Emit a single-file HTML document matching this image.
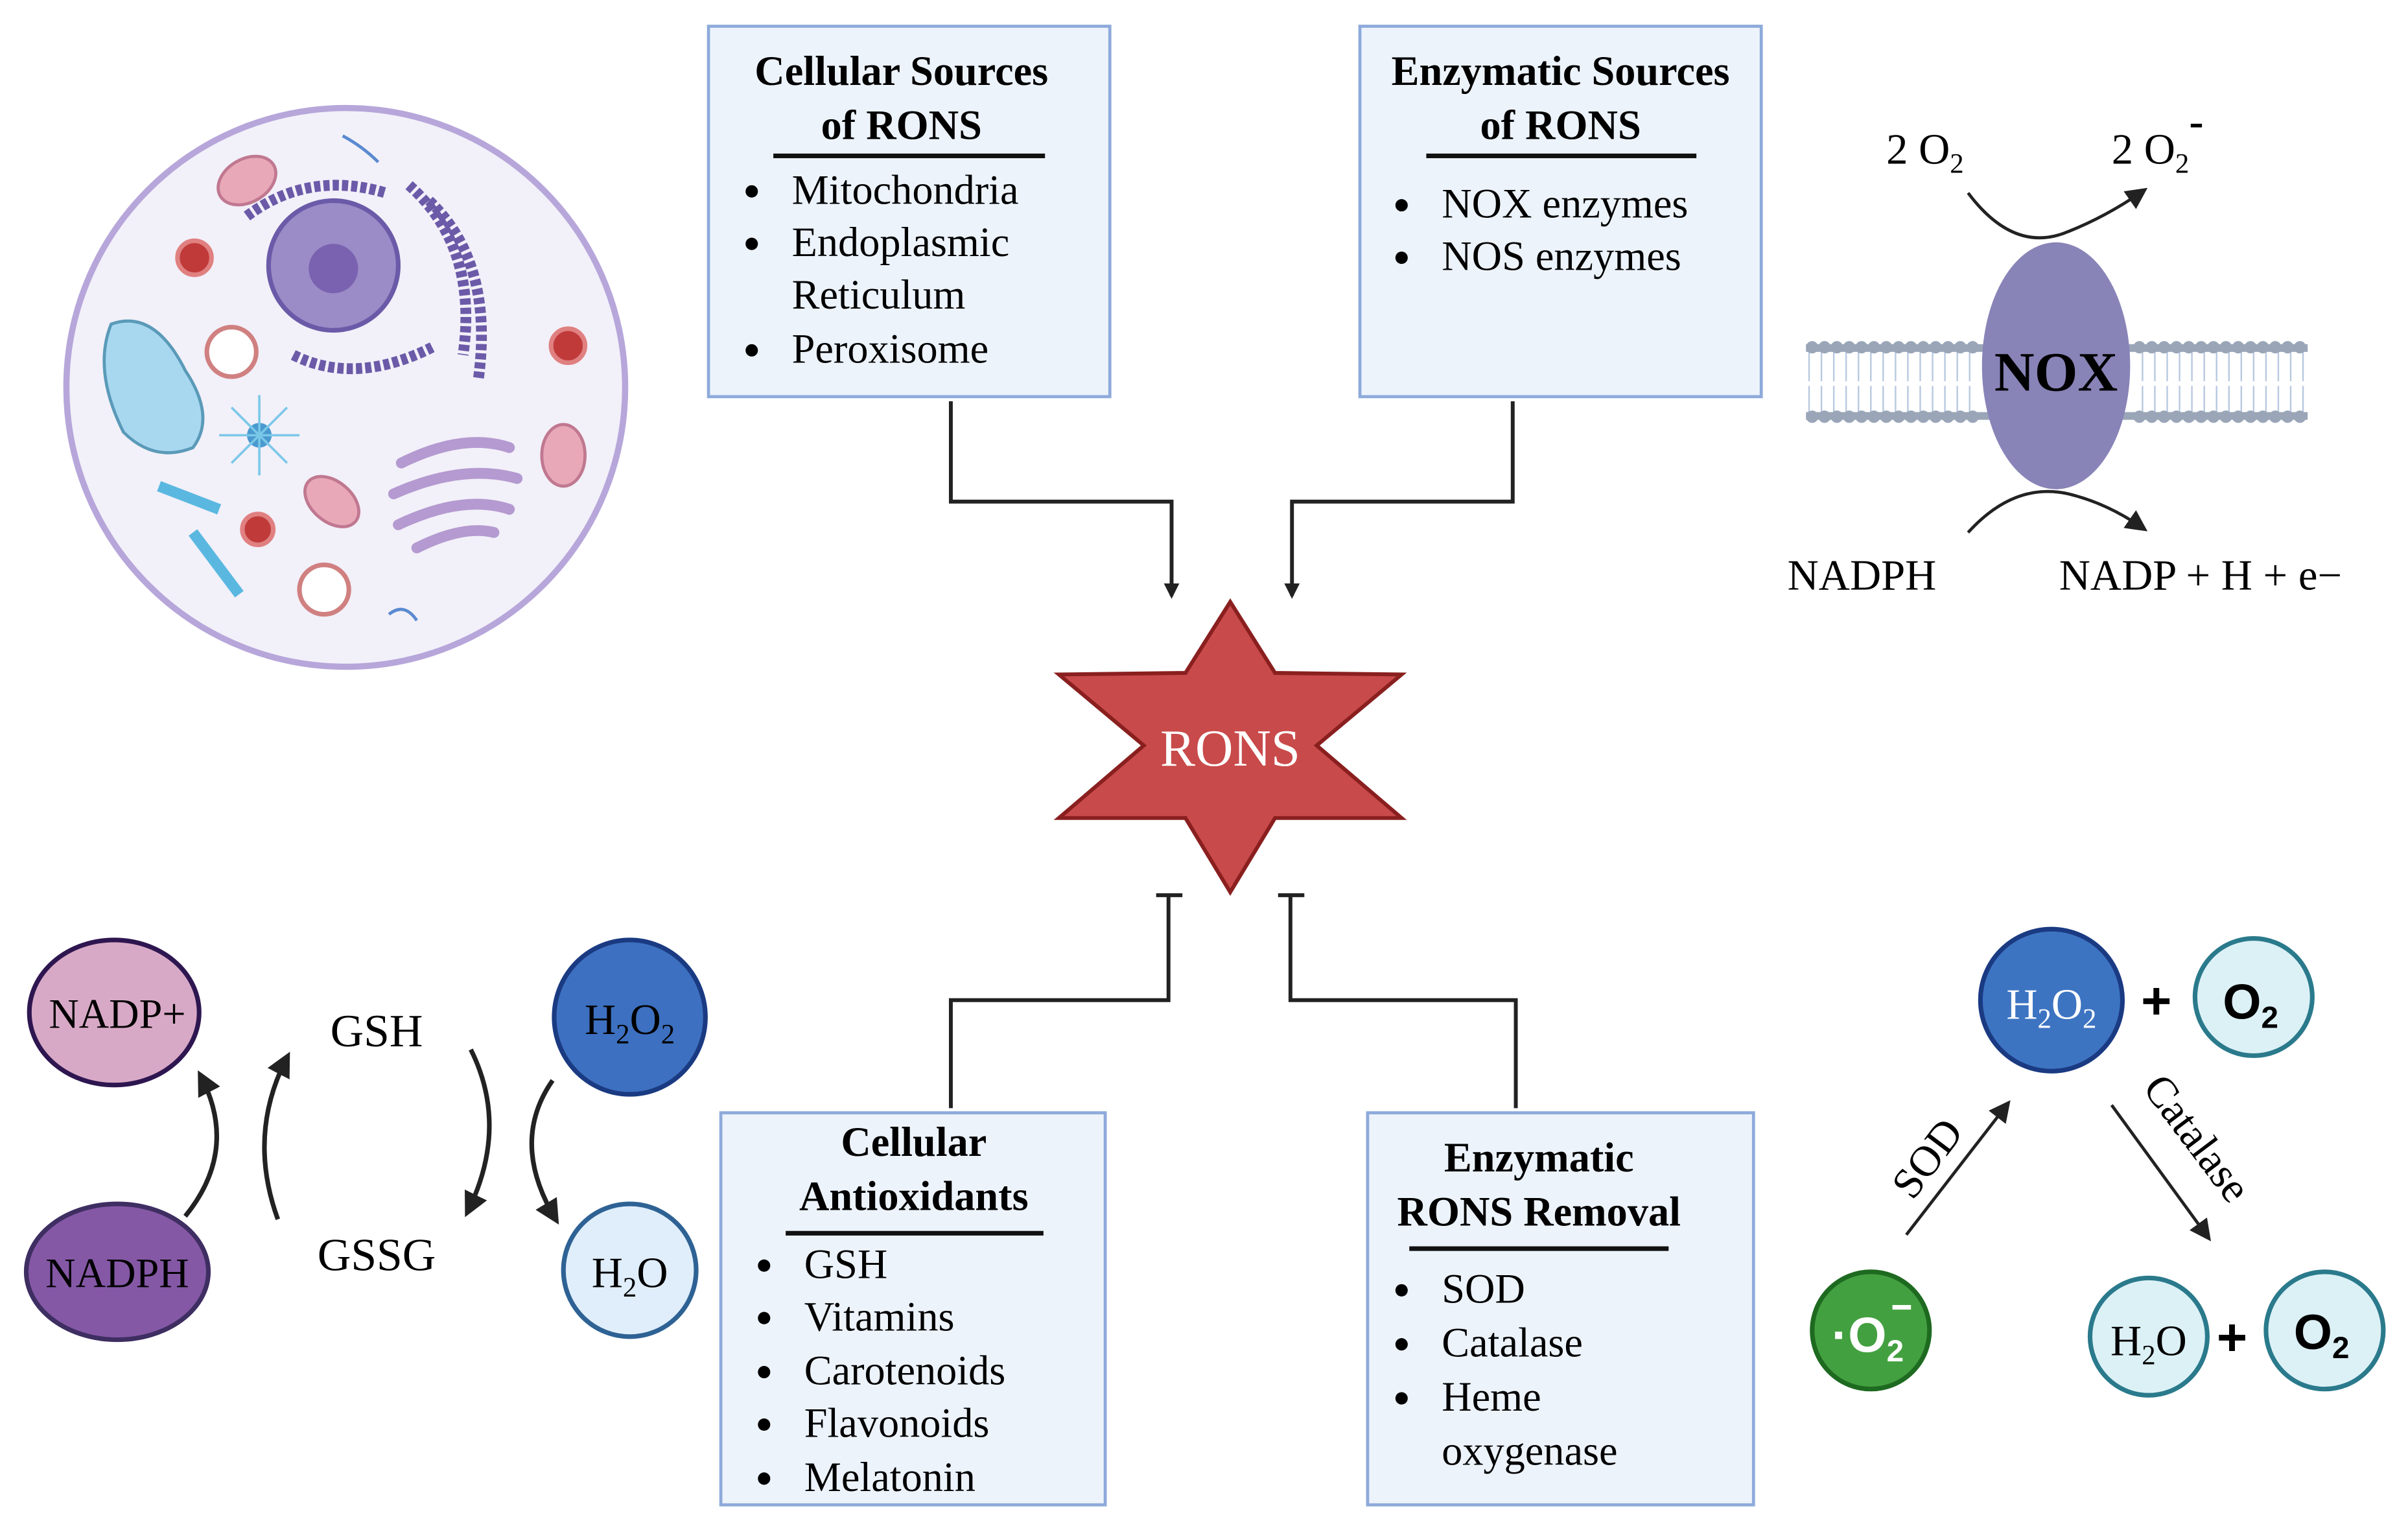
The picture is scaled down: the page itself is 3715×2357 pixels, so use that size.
<!DOCTYPE html>
<html><head><meta charset="utf-8"><style>
html,body{margin:0;padding:0;background:#fff;}
svg{display:block;}
text{font-family:"Liberation Serif",serif;}
</style></head><body>
<svg width="3715" height="2357" viewBox="0 0 1560 990" preserveAspectRatio="none" xmlns="http://www.w3.org/2000/svg">
<defs>
<marker id="ah" markerWidth="10" markerHeight="10" refX="8" refY="5" orient="auto" markerUnits="userSpaceOnUse"><path d="M0,0 L10,5 L0,10 Z" fill="#222"/></marker>
<marker id="ah2" markerWidth="16" markerHeight="16" refX="12" refY="8" orient="auto" markerUnits="userSpaceOnUse"><path d="M0,0 L16,8 L0,16 Z" fill="#222"/></marker>
<marker id="ahd" markerWidth="14" markerHeight="14" refX="10" refY="7" orient="auto" markerUnits="userSpaceOnUse"><path d="M0,0 L14,7 L0,14 Z" fill="#222"/></marker>
</defs>

<!-- Cell -->
<circle cx="224" cy="251" r="181" fill="#f2f0f9" stroke="#b7a6da" stroke-width="4"/>
<circle cx="216" cy="172" r="42" fill="#9b8cc8" stroke="#6b5aa8" stroke-width="3"/>
<circle cx="216" cy="174" r="16" fill="#7a62b0"/>
<path d="M160,140 Q200,110 250,125 M265,120 Q310,160 300,230 M278,130 Q320,170 310,245 M190,230 Q230,250 280,225" fill="none" stroke="#6b5aa8" stroke-width="7" stroke-dasharray="4 2"/>
<path d="M72,210 Q60,240 80,280 Q100,300 125,290 Q140,270 120,240 Q100,200 72,210Z" fill="#a8d8f0" stroke="#5a9ab8" stroke-width="2"/>
<ellipse cx="160" cy="117" rx="20" ry="14" fill="#e8a8b8" stroke="#c07890" stroke-width="2" transform="rotate(-30 160 117)"/>
<ellipse cx="365" cy="295" rx="14" ry="20" fill="#e8a8b8" stroke="#c07890" stroke-width="2"/>
<ellipse cx="215" cy="325" rx="20" ry="13" fill="#e8a8b8" stroke="#c07890" stroke-width="2" transform="rotate(40 215 325)"/>
<circle cx="126" cy="167" r="11" fill="#c03a3a" stroke="#e08080" stroke-width="3"/>
<circle cx="368" cy="224" r="11" fill="#c03a3a" stroke="#e08080" stroke-width="3"/>
<circle cx="167" cy="343" r="10" fill="#c03a3a" stroke="#e08080" stroke-width="3"/>
<circle cx="150" cy="228" r="16" fill="#fff" stroke="#d08080" stroke-width="3"/>
<circle cx="210" cy="382" r="16" fill="#fff" stroke="#d08080" stroke-width="3"/>
<path d="M260,300 Q300,280 330,290 M255,320 Q300,300 335,310 M258,340 Q300,320 330,330 M270,355 Q300,340 320,345" fill="none" stroke="#b49ad0" stroke-width="7" stroke-linecap="round"/>
<circle cx="168" cy="282" r="8" fill="#4a9ad0"/>
<path d="M142,282 L194,282 M168,256 L168,308 M150,264 L186,300 M186,264 L150,300" stroke="#7ac8e8" stroke-width="1.5"/>
<path d="M103,315 L142,330 M125,345 L155,385" stroke="#5ab8e0" stroke-width="7"/>
<path d="M222,88 Q235,95 245,105" fill="none" stroke="#5a8ad0" stroke-width="2"/>
<path d="M252,398 Q262,390 270,402" fill="none" stroke="#5a8ad0" stroke-width="2"/>

<!-- Boxes -->
<rect x="459" y="17" width="260" height="240" fill="#edf3fb" stroke="#8eaadb" stroke-width="2"/>
<text x="584" y="55" font-size="27" font-weight="bold" text-anchor="middle">Cellular Sources</text>
<text x="584" y="90" font-size="27" font-weight="bold" text-anchor="middle">of RONS</text>
<line x1="501" y1="101" x2="677" y2="101" stroke="#111" stroke-width="3"/>
<g font-size="27"><circle cx="487" cy="124" r="4"/><text x="513" y="132">Mitochondria</text>
<circle cx="487" cy="158" r="4"/><text x="513" y="166">Endoplasmic</text><text x="513" y="200">Reticulum</text>
<circle cx="487" cy="227" r="4"/><text x="513" y="235">Peroxisome</text></g>

<rect x="881" y="17" width="260" height="240" fill="#edf3fb" stroke="#8eaadb" stroke-width="2"/>
<text x="1011" y="55" font-size="27" font-weight="bold" text-anchor="middle">Enzymatic Sources</text>
<text x="1011" y="90" font-size="27" font-weight="bold" text-anchor="middle">of RONS</text>
<line x1="924" y1="101" x2="1099" y2="101" stroke="#111" stroke-width="3"/>
<g font-size="27"><circle cx="908" cy="133" r="4"/><text x="934" y="141">NOX enzymes</text>
<circle cx="908" cy="167" r="4"/><text x="934" y="175">NOS enzymes</text></g>

<rect x="467" y="721" width="249" height="254" fill="#edf3fb" stroke="#8eaadb" stroke-width="2"/>
<text x="592" y="749" font-size="27" font-weight="bold" text-anchor="middle">Cellular</text>
<text x="592" y="784" font-size="27" font-weight="bold" text-anchor="middle">Antioxidants</text>
<line x1="509" y1="799" x2="676" y2="799" stroke="#111" stroke-width="3"/>
<g font-size="27"><circle cx="495" cy="820" r="4"/><text x="521" y="828">GSH</text>
<circle cx="495" cy="854" r="4"/><text x="521" y="862">Vitamins</text>
<circle cx="495" cy="889" r="4"/><text x="521" y="897">Carotenoids</text>
<circle cx="495" cy="923" r="4"/><text x="521" y="931">Flavonoids</text>
<circle cx="495" cy="958" r="4"/><text x="521" y="966">Melatonin</text></g>

<rect x="886" y="721" width="250" height="254" fill="#edf3fb" stroke="#8eaadb" stroke-width="2"/>
<text x="997" y="759" font-size="27" font-weight="bold" text-anchor="middle">Enzymatic</text>
<text x="997" y="794" font-size="27" font-weight="bold" text-anchor="middle">RONS Removal</text>
<line x1="913" y1="809" x2="1081" y2="809" stroke="#111" stroke-width="3"/>
<g font-size="27"><circle cx="908" cy="836" r="4"/><text x="934" y="844">SOD</text>
<circle cx="908" cy="871" r="4"/><text x="934" y="879">Catalase</text>
<circle cx="908" cy="906" r="4"/><text x="934" y="914">Heme</text><text x="934" y="949">oxygenase</text></g>

<!-- Connectors -->
<g fill="none" stroke="#222" stroke-width="2.5">
<path d="M616,260 V325 H759 V386" marker-end="url(#ah)"/>
<path d="M980,260 V325 H837 V386" marker-end="url(#ah)"/>
<path d="M616,718 V648 H757 V580 M749,580 H766"/>
<path d="M982,718 V648 H836 V580 M828,580 H845"/>
</g>

<!-- Star -->
<polygon points="797,390 826,436 908,437 853,483 908,530 826,530 797,578 768,530 686,530 741,483 686,437 768,436" fill="#c94a4a" stroke="#8a1f1f" stroke-width="2.5" stroke-linejoin="miter"/>
<text x="797" y="496" font-size="34" fill="#fff" text-anchor="middle">RONS</text>

<!-- NOX -->
<g fill="#9aa6b8">
<rect x="1170" y="223" width="325" height="5"/><rect x="1170" y="267" width="325" height="5"/>
</g>
<g stroke="#b8c8e0" stroke-width="1">
<path d="M1172,228 L1172,247 M1180,228 L1180,247 M1188,228 L1188,247 M1196,228 L1196,247 M1204,228 L1204,247 M1212,228 L1212,247 M1220,228 L1220,247 M1228,228 L1228,247 M1236,228 L1236,247 M1244,228 L1244,247 M1252,228 L1252,247 M1260,228 L1260,247 M1268,228 L1268,247 M1276,228 L1276,247"/>
<path d="M1172,250 L1172,267 M1180,250 L1180,267 M1188,250 L1188,267 M1196,250 L1196,267 M1204,250 L1204,267 M1212,250 L1212,267 M1220,250 L1220,267 M1228,250 L1228,267 M1236,250 L1236,267 M1244,250 L1244,267 M1252,250 L1252,267 M1260,250 L1260,267 M1268,250 L1268,267 M1276,250 L1276,267"/>
<path d="M1388,228 V247 M1396,228 V247 M1404,228 V247 M1412,228 V247 M1420,228 V247 M1428,228 V247 M1436,228 V247 M1444,228 V247 M1452,228 V247 M1460,228 V247 M1468,228 V247 M1476,228 V247 M1484,228 V247 M1492,228 V247"/>
<path d="M1388,250 V267 M1396,250 V267 M1404,250 V267 M1412,250 V267 M1420,250 V267 M1428,250 V267 M1436,250 V267 M1444,250 V267 M1452,250 V267 M1460,250 V267 M1468,250 V267 M1476,250 V267 M1484,250 V267 M1492,250 V267"/>
</g>
<g fill="#9aa6b8">
<circle cx="1174" cy="225" r="4"/><circle cx="1182" cy="225" r="4"/><circle cx="1190" cy="225" r="4"/><circle cx="1198" cy="225" r="4"/><circle cx="1206" cy="225" r="4"/><circle cx="1214" cy="225" r="4"/><circle cx="1222" cy="225" r="4"/><circle cx="1230" cy="225" r="4"/><circle cx="1238" cy="225" r="4"/><circle cx="1246" cy="225" r="4"/><circle cx="1254" cy="225" r="4"/><circle cx="1262" cy="225" r="4"/><circle cx="1270" cy="225" r="4"/><circle cx="1278" cy="225" r="4"/>
<circle cx="1174" cy="270" r="4"/><circle cx="1182" cy="270" r="4"/><circle cx="1190" cy="270" r="4"/><circle cx="1198" cy="270" r="4"/><circle cx="1206" cy="270" r="4"/><circle cx="1214" cy="270" r="4"/><circle cx="1222" cy="270" r="4"/><circle cx="1230" cy="270" r="4"/><circle cx="1238" cy="270" r="4"/><circle cx="1246" cy="270" r="4"/><circle cx="1254" cy="270" r="4"/><circle cx="1262" cy="270" r="4"/><circle cx="1270" cy="270" r="4"/><circle cx="1278" cy="270" r="4"/>
<circle cx="1386" cy="225" r="4"/><circle cx="1394" cy="225" r="4"/><circle cx="1402" cy="225" r="4"/><circle cx="1410" cy="225" r="4"/><circle cx="1418" cy="225" r="4"/><circle cx="1426" cy="225" r="4"/><circle cx="1434" cy="225" r="4"/><circle cx="1442" cy="225" r="4"/><circle cx="1450" cy="225" r="4"/><circle cx="1458" cy="225" r="4"/><circle cx="1466" cy="225" r="4"/><circle cx="1474" cy="225" r="4"/><circle cx="1482" cy="225" r="4"/><circle cx="1490" cy="225" r="4"/>
<circle cx="1386" cy="270" r="4"/><circle cx="1394" cy="270" r="4"/><circle cx="1402" cy="270" r="4"/><circle cx="1410" cy="270" r="4"/><circle cx="1418" cy="270" r="4"/><circle cx="1426" cy="270" r="4"/><circle cx="1434" cy="270" r="4"/><circle cx="1442" cy="270" r="4"/><circle cx="1450" cy="270" r="4"/><circle cx="1458" cy="270" r="4"/><circle cx="1466" cy="270" r="4"/><circle cx="1474" cy="270" r="4"/><circle cx="1482" cy="270" r="4"/><circle cx="1490" cy="270" r="4"/>
</g>
<ellipse cx="1332" cy="237" rx="48" ry="80" fill="#8884b8"/>
<text x="1332" y="253" font-size="36" font-weight="bold" text-anchor="middle">NOX</text>
<text x="1222" y="106" font-size="28">2 O<tspan font-size="18" dy="6">2</tspan></text>
<text x="1368" y="106" font-size="28">2 O<tspan font-size="18" dy="6">2</tspan><tspan font-size="28" dy="-24" font-weight="bold">-</tspan></text>
<path d="M1275,125 Q1305,165 1340,150 Q1365,140 1388,124" fill="none" stroke="#222" stroke-width="2" marker-end="url(#ahd)"/>
<path d="M1275,345 Q1305,312 1340,320 Q1365,326 1388,342" fill="none" stroke="#222" stroke-width="2" marker-end="url(#ahd)"/>
<text x="1158" y="382" font-size="28">NADPH</text>
<text x="1334" y="382" font-size="28">NADP + H + e−</text>

<!-- GSH cycle -->
<ellipse cx="74" cy="656" rx="55" ry="47" fill="#d8a9c6" stroke="#2e1650" stroke-width="3"/>
<text x="76" y="666" font-size="27" text-anchor="middle">NADP+</text>
<ellipse cx="76" cy="824" rx="59" ry="44" fill="#8558a6" stroke="#3e2e62" stroke-width="3"/>
<text x="76" y="834" font-size="27" text-anchor="middle">NADPH</text>
<text x="244" y="678" font-size="30" text-anchor="middle">GSH</text>
<text x="244" y="823" font-size="30" text-anchor="middle">GSSG</text>
<ellipse cx="408" cy="659" rx="49" ry="50" fill="#3d70c0" stroke="#1a3a82" stroke-width="3"/>
<text x="408" y="670" font-size="28" text-anchor="middle">H<tspan font-size="18" dy="6">2</tspan><tspan dy="-6">O</tspan><tspan font-size="18" dy="6">2</tspan></text>
<ellipse cx="408" cy="823" rx="43" ry="43" fill="#e0eefb" stroke="#2e6294" stroke-width="3"/>
<text x="408" y="834" font-size="28" text-anchor="middle">H<tspan font-size="18" dy="6">2</tspan><tspan dy="-6">O</tspan></text>
<g fill="none" stroke="#222" stroke-width="3">
<path d="M120,788 Q155,745 130,697" marker-end="url(#ah2)"/>
<path d="M180,790 Q160,735 186,685" marker-end="url(#ah2)"/>
<path d="M305,680 Q330,730 303,785" marker-end="url(#ah2)"/>
<path d="M358,700 Q330,740 360,790" marker-end="url(#ah2)"/>
</g>

<!-- SOD / Catalase -->
<circle cx="1329" cy="648" r="46" fill="#3d74c2" stroke="#1a3a82" stroke-width="3"/>
<text x="1329" y="660" font-size="28" fill="#fff" text-anchor="middle">H<tspan font-size="18" dy="6">2</tspan><tspan dy="-6">O</tspan><tspan font-size="18" dy="6">2</tspan></text>
<text x="1397" y="660" font-size="34" font-weight="bold" text-anchor="middle" style="font-family:'Liberation Sans',sans-serif">+</text>
<circle cx="1460" cy="646" r="38" fill="#dcf1f6" stroke="#2a7a8c" stroke-width="3"/>
<text x="1458" y="660" font-size="32" font-weight="bold" text-anchor="middle" style="font-family:'Liberation Sans',sans-serif">O<tspan font-size="20" dy="6">2</tspan></text>
<circle cx="1212" cy="862" r="38" fill="#43a040" stroke="#1e6a20" stroke-width="3"/>
<text x="1210" y="876" font-size="32" font-weight="bold" fill="#fff" text-anchor="middle" style="font-family:'Liberation Sans',sans-serif">·O<tspan font-size="20" dy="6">2</tspan></text>
<line x1="1226" y1="847" x2="1238" y2="847" stroke="#fff" stroke-width="3"/>
<circle cx="1392" cy="866" r="38" fill="#dcf1f6" stroke="#2a7a8c" stroke-width="3"/>
<text x="1392" y="878" font-size="28" text-anchor="middle">H<tspan font-size="18" dy="6">2</tspan><tspan dy="-6">O</tspan></text>
<text x="1446" y="878" font-size="34" font-weight="bold" text-anchor="middle" style="font-family:'Liberation Sans',sans-serif">+</text>
<circle cx="1506" cy="862" r="38" fill="#dcf1f6" stroke="#2a7a8c" stroke-width="3"/>
<text x="1504" y="874" font-size="32" font-weight="bold" text-anchor="middle" style="font-family:'Liberation Sans',sans-serif">O<tspan font-size="20" dy="6">2</tspan></text>
<line x1="1235" y1="800" x2="1300" y2="716" stroke="#222" stroke-width="2" marker-end="url(#ahd)"/>
<line x1="1368" y1="716" x2="1430" y2="801" stroke="#222" stroke-width="2" marker-end="url(#ahd)"/>
<text x="0" y="0" font-size="28" transform="translate(1256,756) rotate(-53)" text-anchor="middle">SOD</text>
<text x="0" y="0" font-size="28" transform="translate(1416,743) rotate(53)" text-anchor="middle">Catalase</text>
</svg>
</body></html>
